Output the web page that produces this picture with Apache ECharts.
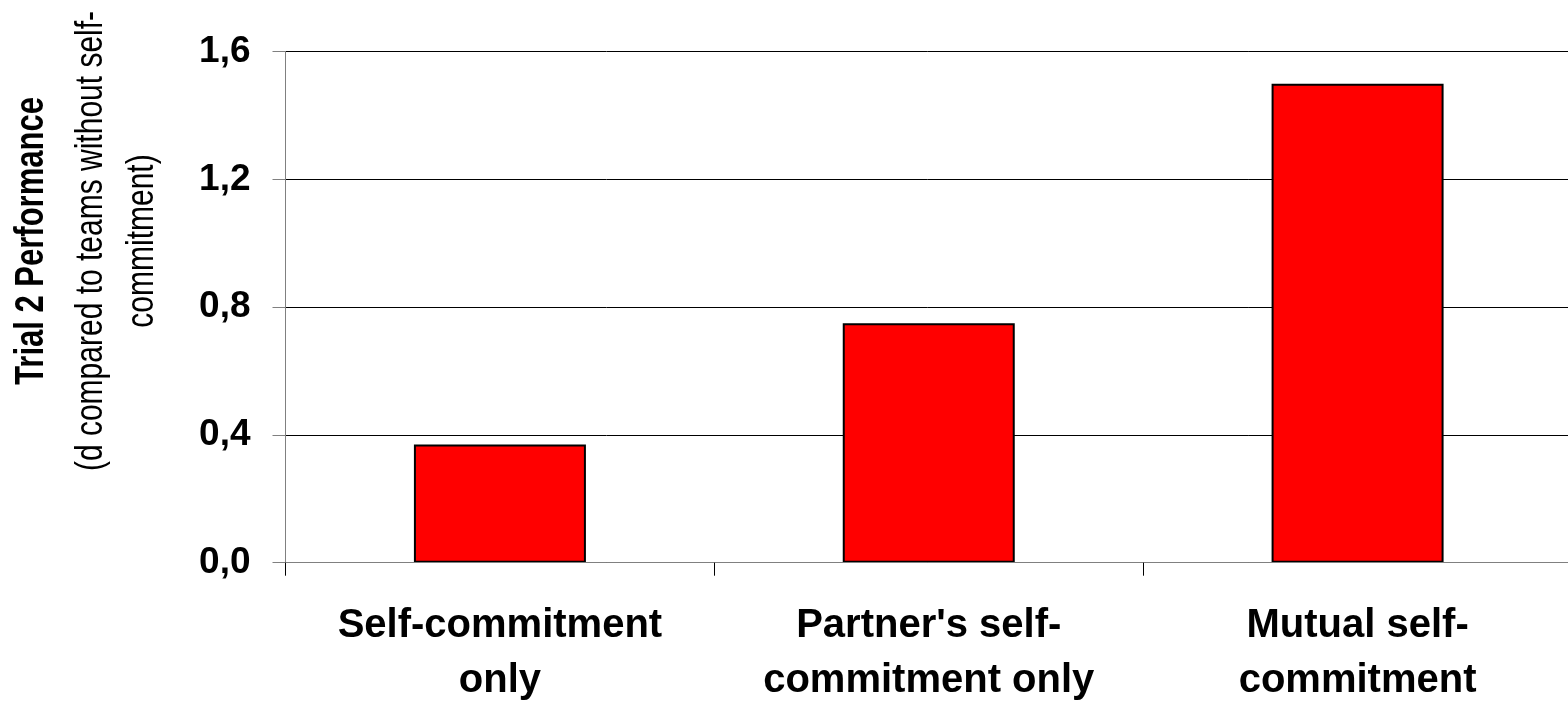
<!DOCTYPE html>
<html>
<head>
<meta charset="utf-8">
<script src="https://cdn.jsdelivr.net/npm/echarts@6/dist/echarts.min.js"></script>
<style>
  html, body { margin: 0; padding: 0; background: #fff; }
  #chart { width: 1568px; height: 703px; }
</style>
</head>
<body>
<div id="chart"></div>
<script>
// categories (x axis), two-line labels as in the original
const categories = ['Self-commitment\nonly', "Partner's self-\ncommitment only", 'Mutual self-\ncommitment'];
// d compared to teams without self-commitment
const values = [0.37, 0.75, 1.5];
// y axis range
const yMin = 0, yMax = 1.6, yStep = 0.4;

const font = '"Liberation Sans", Arial, sans-serif';

var chartDom = document.getElementById('chart');
var myChart = echarts.init(chartDom);
var option;

option = {
  animation: false,
  backgroundColor: '#ffffff',
  grid: { left: 285.5, right: -4, top: 51.7, bottom: 140.3, containLabel: false, outerBoundsMode: 'none' },
  xAxis: {
    type: 'category',
    data: categories,
    boundaryGap: true,
    axisLine: { show: true, lineStyle: { color: '#808080', width: 1 } },
    axisTick: { show: true, length: 13, lineStyle: { color: '#000', width: 1 } },
    axisLabel: {
      interval: 0,
      margin: 36,
      color: '#000',
      fontFamily: font,
      fontWeight: 'bold',
      fontSize: 40,
      lineHeight: 55
    },
    z: 3
  },
  yAxis: {
    type: 'value',
    min: yMin,
    max: yMax,
    interval: yStep,
    axisLine: { show: true, lineStyle: { color: '#808080', width: 1 } },
    axisTick: { show: true, length: 13, lineStyle: { color: '#808080', width: 1 } },
    splitLine: { show: true, lineStyle: { color: '#000', width: 1 } },
    axisLabel: {
      margin: 35,
      color: '#000',
      fontFamily: font,
      fontWeight: 'bold',
      fontSize: 37,
      formatter: function (v) { return v.toFixed(1).replace('.', ','); }
    }
  },
  // axis title, three rotated lines (slightly stretched across like the original)
  graphic: [
    {
      type: 'text', x: 32, y: 241, rotation: Math.PI / 2, scaleY: 1.3,
      style: { text: 'Trial 2 Performance', fontFamily: font, fontWeight: 'bold', fontSize: 31,
               fill: '#000', align: 'center', verticalAlign: 'middle' }
    },
    {
      type: 'text', x: 91, y: 241, rotation: Math.PI / 2, scaleY: 1.3,
      style: { text: '(d compared to teams without self-', fontFamily: font, fontSize: 30,
               fill: '#000', align: 'center', verticalAlign: 'middle' }
    },
    {
      type: 'text', x: 142, y: 241, rotation: Math.PI / 2, scaleY: 1.3,
      style: { text: 'commitment)', fontFamily: font, fontSize: 30,
               fill: '#000', align: 'center', verticalAlign: 'middle' }
    }
  ],
  series: [
    {
      type: 'bar',
      data: values,
      barWidth: 172,
      itemStyle: { color: '#ff0000', borderColor: '#000', borderWidth: 2 },
      z: 2
    }
  ]
};

option && myChart.setOption(option);
</script>
</body>
</html>
